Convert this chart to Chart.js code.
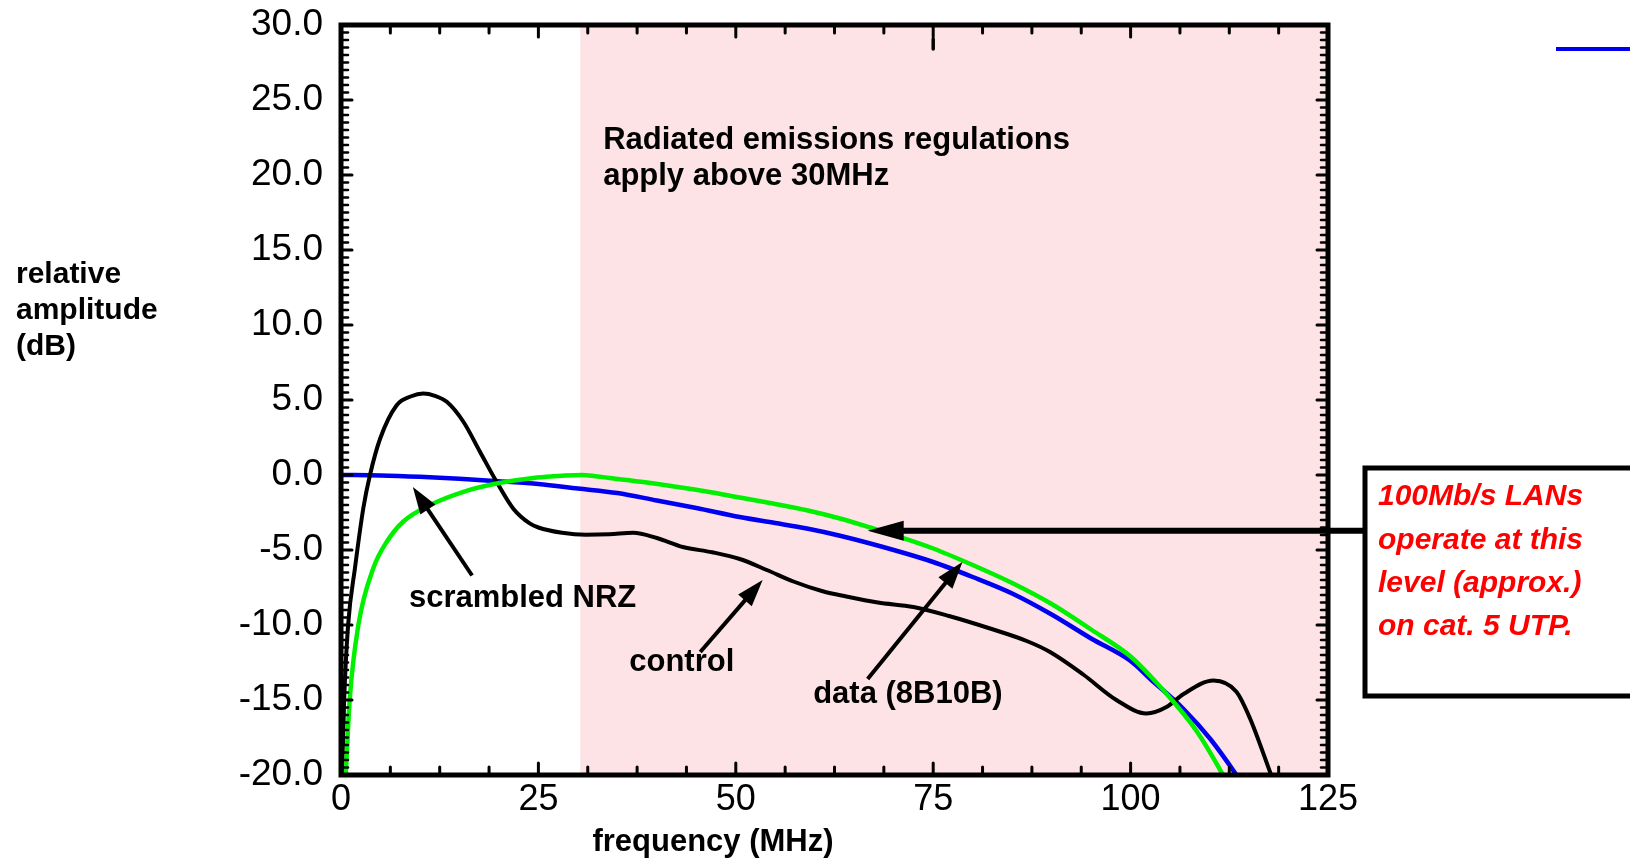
<!DOCTYPE html>
<html>
<head>
<meta charset="utf-8">
<title>Relative amplitude vs frequency</title>
<script src="https://cdn.jsdelivr.net/npm/chart.js@4.4.0/dist/chart.umd.min.js"></script>
<style>
  html, body { margin: 0; padding: 0; background: #fff; }
</style>
</head>
<body>
<canvas id="spectrum-chart" width="1630" height="864"></canvas>
<script>
// --- Data (frequency in MHz, relative amplitude in dB) ---
const nrzFreq = [0, 5, 10, 15, 20, 25, 30, 35, 40, 45, 50.5, 55, 59, 63.2, 70, 75, 80, 85, 90, 95, 100, 102.5, 106.7, 110.1, 113.4, 115];
const nrzDb = [0, -0.03, -0.12, -0.25, -0.42, -0.6, -0.9, -1.2, -1.7, -2.2, -2.8, -3.2, -3.57, -4.05, -5.0, -5.8, -6.8, -7.9, -9.3, -10.9, -12.4, -13.6, -15.6, -17.6, -20, -21.3];

const dataFreq = [0.6, 1.1, 2.2, 4.1, 5.8, 7.9, 11.3, 15.5, 19.7, 23.9, 26, 28, 30.5, 32, 34, 38, 42, 46.3, 50.5, 54.7, 59, 63.2, 67, 70, 75, 80, 85, 90, 95, 100, 102.5, 105.8, 108.4, 111.7, 113];
const dataDb = [-20, -15, -10, -6.2, -4.45, -3.1, -2.0, -1.12, -0.57, -0.23, -0.12, -0.05, 0, -0.06, -0.2, -0.45, -0.75, -1.1, -1.5, -1.9, -2.35, -2.9, -3.5, -4.0, -4.9, -6.0, -7.2, -8.6, -10.3, -12.1, -13.4, -15.35, -17.1, -20, -21.3];

const controlFreq = [0.15, 0.4, 0.9, 1.77, 2.83, 3.67, 4.94, 7.05, 8.9, 10.4, 11.9, 13.4, 15.5, 17.6, 19.7, 21.8, 23.9, 25, 28, 31, 34, 37, 40, 43.3, 47, 50.5, 54, 57.3, 61, 64, 68, 72.5, 77, 82, 87, 89.8, 94, 98.2, 102, 104.6, 106.7, 110.5, 113.4, 115.1, 117.8];
const controlDb = [-20, -15, -10, -6.2, -2.2, 0, 2.4, 4.65, 5.25, 5.43, 5.28, 4.88, 3.55, 1.55, -0.45, -2.23, -3.23, -3.5, -3.85, -3.98, -3.95, -3.85, -4.2, -4.8, -5.15, -5.6, -6.35, -7.1, -7.75, -8.1, -8.5, -8.8, -9.4, -10.2, -11.1, -11.8, -13.3, -15.0, -15.9, -15.45, -14.6, -13.7, -14.45, -16.2, -20];

// regulated region starts here (MHz)
const shadeStart = 30.3;
const lanLevel = -3.72;

const FONT = '"Liberation Sans", Arial, Helvetica, sans-serif';

function toPoints(xs, ys) {
    return xs.map((x, i) => ({ x: x, y: ys[i] }));
}

function line(ctx, x1, y1, x2, y2) {
    ctx.beginPath();
    ctx.moveTo(x1, y1);
    ctx.lineTo(x2, y2);
    ctx.stroke();
}

function arrow(ctx, x1, y1, x2, y2, width, headLen, headHalf) {
    const ang = Math.atan2(y2 - y1, x2 - x1);
    const bx = x2 - headLen * Math.cos(ang);
    const by = y2 - headLen * Math.sin(ang);
    ctx.lineWidth = width;
    ctx.lineCap = 'butt';
    line(ctx, x1, y1, bx + Math.cos(ang) * 2, by + Math.sin(ang) * 2);
    ctx.beginPath();
    ctx.moveTo(x2, y2);
    ctx.lineTo(bx - headHalf * Math.sin(ang), by + headHalf * Math.cos(ang));
    ctx.lineTo(bx + headHalf * Math.sin(ang), by - headHalf * Math.cos(ang));
    ctx.closePath();
    ctx.fill();
}

const decorPlugin = {
    id: 'decor',
    beforeDatasetsDraw(chart) {
        const { ctx, chartArea: a, scales: { x } } = chart;
        ctx.save();
        ctx.fillStyle = '#fde3e5';
        const xs = x.getPixelForValue(shadeStart);
        ctx.fillRect(xs, a.top, a.right - xs, a.bottom - a.top);
        ctx.restore();
    },
    afterDatasetsDraw(chart) {
        const { ctx, chartArea: a, scales: { x, y } } = chart;
        ctx.save();
        ctx.strokeStyle = '#000';
        ctx.fillStyle = '#000';

        // frame
        ctx.lineWidth = 5;
        ctx.strokeRect(a.left, a.top, a.right - a.left, a.bottom - a.top);

        // inward ticks, left and right
        ctx.lineCap = 'round';
        for (let i = 0; i <= 100; i++) {
            const py = y.getPixelForValue(-20 + i * 0.5);
            const major = i % 10 === 0;
            const len = major ? 11 : 7;
            ctx.lineWidth = major ? 3 : 2.5;
            line(ctx, a.left, py, a.left + len, py);
            line(ctx, a.right, py, a.right - len, py);
        }
        // top and bottom
        for (let i = 0; i <= 20; i++) {
            const px = x.getPixelForValue(i * 6.25);
            const major = i % 4 === 0;
            const len = major ? 12 : 8;
            ctx.lineWidth = 3;
            line(ctx, px, a.top, px, a.top + len);
            line(ctx, px, a.bottom, px, a.bottom - len);
        }
        // odd long mark on the top axis at 75
        ctx.lineWidth = 3.5;
        line(ctx, x.getPixelForValue(75), a.top + 14, x.getPixelForValue(75), a.top + 24);

        // text labels
        ctx.textBaseline = 'middle';
        ctx.textAlign = 'left';
        ctx.font = 'bold 31px ' + FONT;
        ctx.fillText('Radiated emissions regulations', x.getPixelForValue(33.2), y.getPixelForValue(22.3));
        ctx.fillText('apply above 30MHz', x.getPixelForValue(33.2), y.getPixelForValue(19.9));
        ctx.fillText('scrambled NRZ', x.getPixelForValue(8.6), y.getPixelForValue(-8.2));
        ctx.fillText('control', x.getPixelForValue(36.5), y.getPixelForValue(-12.5));
        ctx.fillText('data (8B10B)', x.getPixelForValue(59.8), y.getPixelForValue(-14.6));

        // axis titles
        ctx.font = 'bold 30px ' + FONT;
        ctx.fillText('relative', 16, 275);
        ctx.fillText('amplitude', 16, 311);
        ctx.fillText('(dB)', 16, 347);
        ctx.textAlign = 'center';
        ctx.font = 'bold 31px ' + FONT;
        ctx.fillText('frequency (MHz)', 713, 842);

        // pointer arrows
        arrow(ctx, x.getPixelForValue(16.6), y.getPixelForValue(-6.7), x.getPixelForValue(9.1), y.getPixelForValue(-0.8), 4, 27, 9);
        arrow(ctx, x.getPixelForValue(45.5), y.getPixelForValue(-11.8), x.getPixelForValue(53.4), y.getPixelForValue(-7.0), 4, 27, 9);
        arrow(ctx, x.getPixelForValue(66.7), y.getPixelForValue(-13.6), x.getPixelForValue(78.7), y.getPixelForValue(-5.8), 4, 27, 9);

        // note box with arrow to the LAN level
        const boxLeft = 1365, boxTop = 468, boxBottom = 696;
        arrow(ctx, boxLeft, y.getPixelForValue(lanLevel), x.getPixelForValue(66.7), y.getPixelForValue(lanLevel), 6, 36, 10);
        ctx.lineWidth = 5;
        ctx.strokeRect(boxLeft, boxTop, 1640 - boxLeft, boxBottom - boxTop);
        ctx.fillStyle = '#ff0000';
        ctx.textAlign = 'left';
        ctx.font = 'italic bold 30px ' + FONT;
        ['100Mb/s LANs', 'operate at this', 'level (approx.)', 'on cat. 5 UTP.'].forEach((t, i) => {
            ctx.fillText(t, 1378, 497 + i * 43.3);
        });

        // legend stub, cut off at the page edge
        ctx.strokeStyle = '#0000f0';
        ctx.lineWidth = 4;
        ctx.lineCap = 'butt';
        line(ctx, 1556, 49, 1632, 49);
        ctx.restore();
    }
};

const ctx = document.getElementById('spectrum-chart').getContext('2d');

new Chart(ctx, {
    type: 'line',
    data: {
        datasets: [
            {
                label: 'data (8B10B)',
                data: toPoints(dataFreq, dataDb),
                borderColor: '#00f000',
                borderWidth: 4.5
            },
            {
                label: 'control',
                data: toPoints(controlFreq, controlDb),
                borderColor: '#000000',
                borderWidth: 4
            },
            {
                label: 'scrambled NRZ',
                data: toPoints(nrzFreq, nrzDb),
                borderColor: '#0000f0',
                borderWidth: 4.5
            }
        ]
    },
    options: {
        responsive: false,
        devicePixelRatio: 1,
        animation: false,
        layout: {
            padding: { left: 0, top: 25, right: 302, bottom: 0 }
        },
        elements: {
            point: { radius: 0 },
            line: { cubicInterpolationMode: 'monotone', fill: false }
        },
        scales: {
            x: {
                type: 'linear',
                min: 0,
                max: 125,
                grid: { display: false, drawTicks: false },
                border: { display: false },
                ticks: {
                    stepSize: 25,
                    padding: 3,
                    color: '#000',
                    font: { family: FONT, size: 36 },
                    callback: (v) => String(v)
                },
                afterFit: (scale) => {
                    scale.height = 89;
                    scale.paddingLeft = 0;
                    scale.paddingRight = 0;
                }
            },
            y: {
                type: 'linear',
                min: -20,
                max: 30,
                grid: { display: false, drawTicks: false },
                border: { display: false },
                ticks: {
                    stepSize: 5,
                    padding: 18,
                    color: '#000',
                    font: { family: FONT, size: 37 },
                    callback: (v) => v.toFixed(1)
                },
                afterFit: (scale) => {
                    scale.width = 341;
                    scale.paddingTop = 0;
                    scale.paddingBottom = 0;
                }
            }
        },
        plugins: {
            legend: { display: false },
            tooltip: { enabled: false }
        }
    },
    plugins: [decorPlugin]
});
</script>
</body>
</html>
